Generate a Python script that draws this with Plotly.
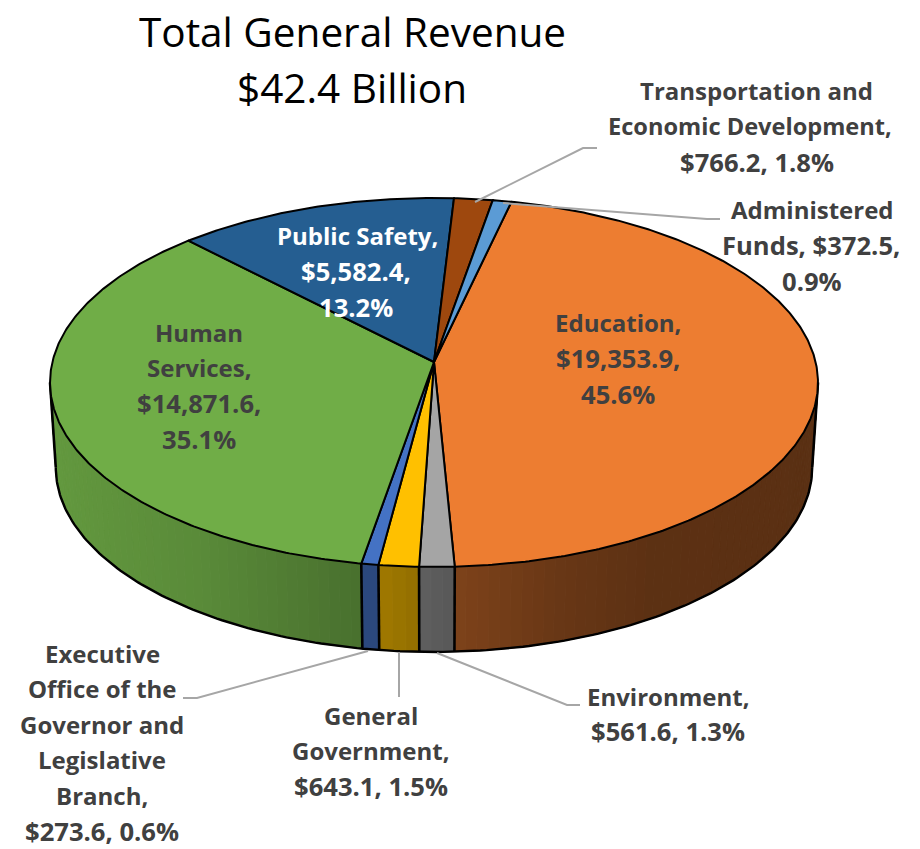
import numpy as np
import plotly.graph_objects as go

# ---- data ----
CATEGORIES = ["Education", "Environment", "General Government",
              "Executive Office of the Governor and Legislative Branch",
              "Human Services", "Public Safety",
              "Transportation and Economic Development", "Administered Funds"]
VALUES = [19353.9, 561.6, 643.1, 273.6, 14871.6, 5582.4, 766.2, 372.5]
TOP_COLORS = ["#ED7D31", "#A5A5A5", "#FFC000", "#4472C4",
              "#70AD47", "#255E91", "#9E480E", "#5B9BD5"]
TITLE_LINES = ["Total General Revenue", "$42.4 Billion"]

# ---- pie geometry / styling (pixels) ----
CX, CY = 434, 362
RX, RY, PERSP = 381.6, 182.2, 0.111
DEPTH, BOTTOM_SX = 85, 0.985
START_DEG = 13.0
SHADE_X = [50, 200, 358, 400, 454, 560, 650, 820]
SHADE_F = [0.88, 0.80, 0.65, 0.60, 0.53, 0.44, 0.39, 0.38]
FONT = "Open Sans"
TEXT_GREY = "#404040"
LEADER = "#A6A6A6"
SIZE_WORDS, SIZE_NUMBERS = 24, 25.6


def top(theta_deg):
    t = np.radians(theta_deg)
    w = 1 + PERSP * np.cos(t)
    return CX + RX * np.sin(t) / w, CY - RY * np.cos(t) / w


def bottom(theta_deg):
    x, y = top(theta_deg)
    return CX + (x - CX) * BOTTOM_SX, y + DEPTH


def shaded(hex_color, x):
    f = float(np.interp(x, SHADE_X, SHADE_F))
    r, g, b = (int(hex_color[i:i + 2], 16) for i in (1, 3, 5))
    return f"rgb({r * f:.0f},{g * f:.0f},{b * f:.0f})"


total = sum(VALUES)
edges = START_DEG + 360 * np.concatenate([[0], np.cumsum(VALUES)]) / total
WALL_A = np.degrees(np.arccos(-PERSP))
WALL_B = 360 - WALL_A

fig = go.Figure()


def poly(xs, ys, fill=None, line="black", width=2):
    fig.add_trace(go.Scatter(
        x=list(xs), y=list(ys), mode="lines",
        fill="toself" if fill else None, fillcolor=fill,
        line=dict(color=line, width=width), hoverinfo="skip", showlegend=False))


# side wall, slice by slice, in narrow shaded strips
for a0, a1, col in zip(edges[:-1], edges[1:], TOP_COLORS):
    lo, hi = max(a0, WALL_A), min(a1, WALL_B)
    if lo >= hi:
        continue
    n = max(1, int((hi - lo) / 1.5))
    th = np.linspace(lo, hi, n + 1)
    for s0, s1 in zip(th[:-1], th[1:]):
        tx0, ty0 = top(s0)
        tx1, ty1 = top(s1)
        bx0, by0 = bottom(s0)
        bx1, by1 = bottom(s1)
        c = shaded(col, (tx0 + tx1) / 2)
        poly([tx0, tx1, bx1, bx0, tx0], [ty0, ty1, by1, by0, ty0], fill=c, line=c, width=1)

# wall outlines
th = np.linspace(WALL_A, WALL_B, 200)
bx, by = bottom(th)
poly(bx, by, width=2.4)
for e in [WALL_A, *[a for a in edges if WALL_A < a < WALL_B], WALL_B]:
    tx, ty = top(e)
    bx, by = bottom(e)
    poly([tx, bx], [ty, by], width=2.6)

# top face
for a0, a1, col in zip(edges[:-1], edges[1:], TOP_COLORS):
    th = np.linspace(a0, a1, max(3, int(a1 - a0) * 2))
    x, y = top(th)
    poly(np.r_[CX, x, CX], np.r_[CY, y, CY], fill=col, width=2)

# leader lines
LEADERS = [
    ([475, 583, 597], [202, 148, 148]),
    ([503, 707, 720], [203, 219, 219]),
    ([437, 567, 580], [653, 705, 705]),
    ([399, 399], [652, 697]),
    ([368, 197, 183], [651, 698, 698]),
]
for xs, ys in LEADERS:
    poly(xs, ys, line=LEADER, width=2)

# labels: (centre x of each line, first-line y, line pitch, colour, lines)
LABELS = [
    ([756, 750, 757], 90, 36, TEXT_GREY, ["Transportation and", "Economic Development,", "$766.2, 1.8%"]),
    ([812, 811, 812], 209, 36, TEXT_GREY, ["Administered", "Funds, $372.5,", "0.9%"]),
    ([357, 356, 356], 235, 36, "#FFFFFF", ["Public Safety,", "$5,582.4,", "13.2%"]),
    ([618, 618, 618], 322, 36, TEXT_GREY, ["Education,", "$19,353.9,", "45.6%"]),
    ([199, 199, 199, 199], 332, 35.7, TEXT_GREY, ["Human", "Services,", "$14,871.6,", "35.1%"]),
    ([668, 668], 696, 35.5, TEXT_GREY, ["Environment,", "$561.6, 1.3%"]),
    ([371, 371, 371], 715, 35.5, TEXT_GREY, ["General", "Government,", "$643.1, 1.5%"]),
    ([102, 102, 102, 102, 102, 102], 653, 35.6, TEXT_GREY,
     ["Executive", "Office of the", "Governor and", "Legislative", "Branch,", "$273.6, 0.6%"]),
]
ann = []
for cxs, y0, pitch, color, lines in LABELS:
    for i, (cx, s) in enumerate(zip(cxs, lines)):
        size = SIZE_NUMBERS if any(ch.isdigit() for ch in s) else SIZE_WORDS
        if s.startswith("Economic"):
            size = 23.6
        ann.append(dict(x=cx, y=y0 + i * pitch, text=f"<b>{s}</b>", showarrow=False,
                        xanchor="center", yanchor="middle",
                        font=dict(family=FONT, size=size, color=color)))
for s, y in zip(TITLE_LINES, [31, 87]):
    ann.append(dict(x=352, y=y, text=s, showarrow=False, xanchor="center", yanchor="middle",
                    font=dict(family=FONT, size=40.5, color="#000000")))

fig.update_layout(
    width=920, height=849, margin=dict(l=0, r=0, t=0, b=0),
    paper_bgcolor="white", plot_bgcolor="white", showlegend=False,
    xaxis=dict(range=[0, 920], visible=False, fixedrange=True),
    yaxis=dict(range=[849, 0], visible=False, fixedrange=True),
    annotations=ann,
)
fig.write_html("out.html", config={"displayModeBar": False},
               post_script="document.body.style.margin='0';")
